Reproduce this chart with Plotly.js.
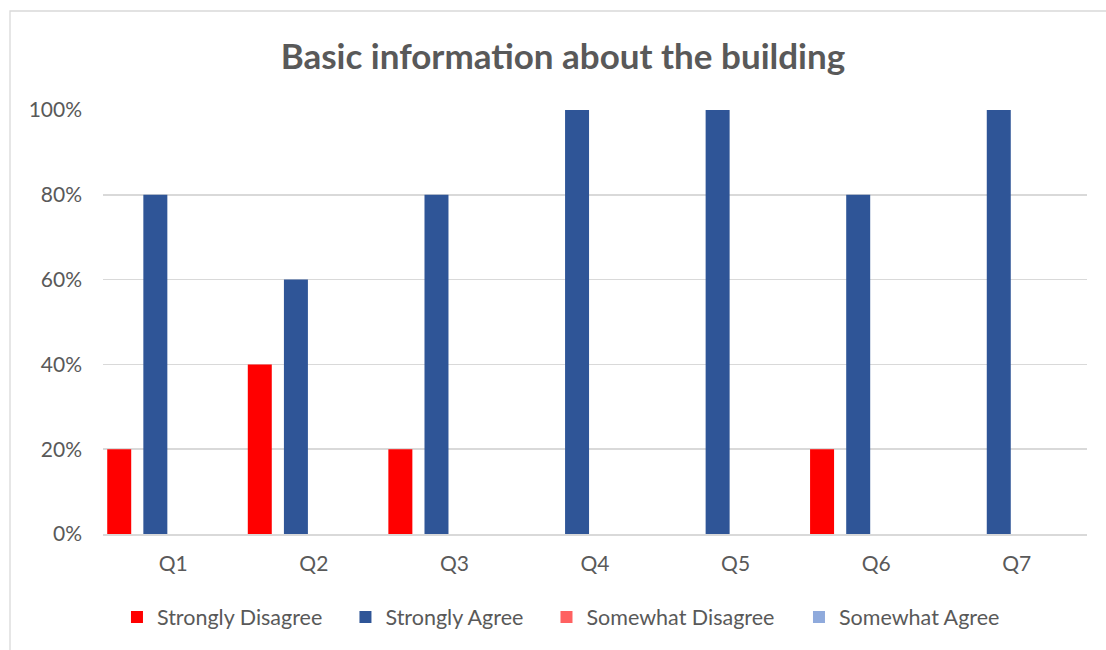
<!DOCTYPE html>
<html>
<head>
<meta charset="utf-8">
<script src="https://cdn.plot.ly/plotly-3.0.1.min.js"></script>
<style>
html,body{margin:0;padding:0;background:#fff;}
#chart{width:1106px;height:650px;}
</style>
</head>
<body>
<div id="chart"></div>
<script>
const categories = ["Q1","Q2","Q3","Q4","Q5","Q6","Q7"];
const seriesNames = ["Strongly Disagree","Strongly Agree","Somewhat Disagree","Somewhat Agree"];
const stronglyDisagree = [0.2, 0.4, 0.2, 0, 0, 0.2, 0];
const stronglyAgree = [0.8, 0.6, 0.8, 1.0, 1.0, 0.8, 1.0];
const somewhatDisagree = [0, 0, 0, 0, 0, 0, 0];
const somewhatAgree = [0, 0, 0, 0, 0, 0, 0];
const yTickVals = [0, 0.2, 0.4, 0.6, 0.8, 1.0];
const yTickText = ["0%","20%","40%","60%","80%","100%"];

const values = [stronglyDisagree, stronglyAgree, somewhatDisagree, somewhatAgree];
const colors = ["#FF0000", "#2F5597", "#FF6161", "#8FAADC"];
const offsets = [-0.470, -0.213, 0.043, 0.299];
const barWidth = 0.1707;
const legendIds = ["legend", "legend2", "legend3", "legend4"];
const legendX = [0.0142, 0.2464, 0.4507, 0.7073];

const FONT = "Lato, 'Liberation Sans', Arial, sans-serif";

const traces = values.map((v, i) => ({
  type: "bar",
  name: seriesNames[i],
  x: categories,
  y: v,
  marker: {color: colors[i], line: {width: 0}},
  width: barWidth,
  offset: offsets[i],
  legend: legendIds[i],
  hoverinfo: "none"
}));

const layout = {
  width: 1106,
  height: 650,
  margin: {l: 103, r: 19, t: 110, b: 116},
  paper_bgcolor: "#ffffff",
  plot_bgcolor: "#ffffff",
  barmode: "overlay",
  title: {
    text: "<b>Basic information about the building</b>",
    font: {family: FONT, size: 35, color: "#595959"},
    x: 0.509, xanchor: "center",
    y: 0.912, yanchor: "middle"
  },
  xaxis: {
    type: "category",
    range: [-0.5, 6.5],
    showgrid: false,
    showline: true,
    linecolor: "#d9d9d9",
    linewidth: 1.5,
    ticks: "",
    ticklabelstandoff: 10,
    tickfont: {family: FONT, size: 21, color: "#595959"},
    fixedrange: true,
    zeroline: false
  },
  yaxis: {
    range: [0, 1],
    tickvals: yTickVals,
    ticktext: yTickText,
    showgrid: true,
    gridcolor: "#d9d9d9",
    gridwidth: 1.5,
    zeroline: false,
    showline: false,
    ticks: "",
    ticklabelstandoff: 20,
    tickfont: {family: FONT, size: 21, color: "#595959"},
    fixedrange: true
  },
  showlegend: true,
  shapes: [{
    type: "rect",
    xref: "paper", yref: "paper",
    x0: -0.0945, x1: 1.2,
    y0: -0.6, y1: 1.2335,
    line: {color: "#d9d9d9", width: 1.3},
    fillcolor: "rgba(0,0,0,0)",
    layer: "below"
  }]
};

legendIds.forEach((id, i) => {
  layout[id] = {
    orientation: "h",
    x: legendX[i], xanchor: "left",
    y: -0.196, yanchor: "middle",
    font: {family: FONT, size: 21.5, color: "#595959"},
    itemwidth: 30,
    bgcolor: "rgba(0,0,0,0)"
  };
});

Plotly.newPlot("chart", traces, layout, {displayModeBar: false, staticPlot: true});
</script>
</body>
</html>
